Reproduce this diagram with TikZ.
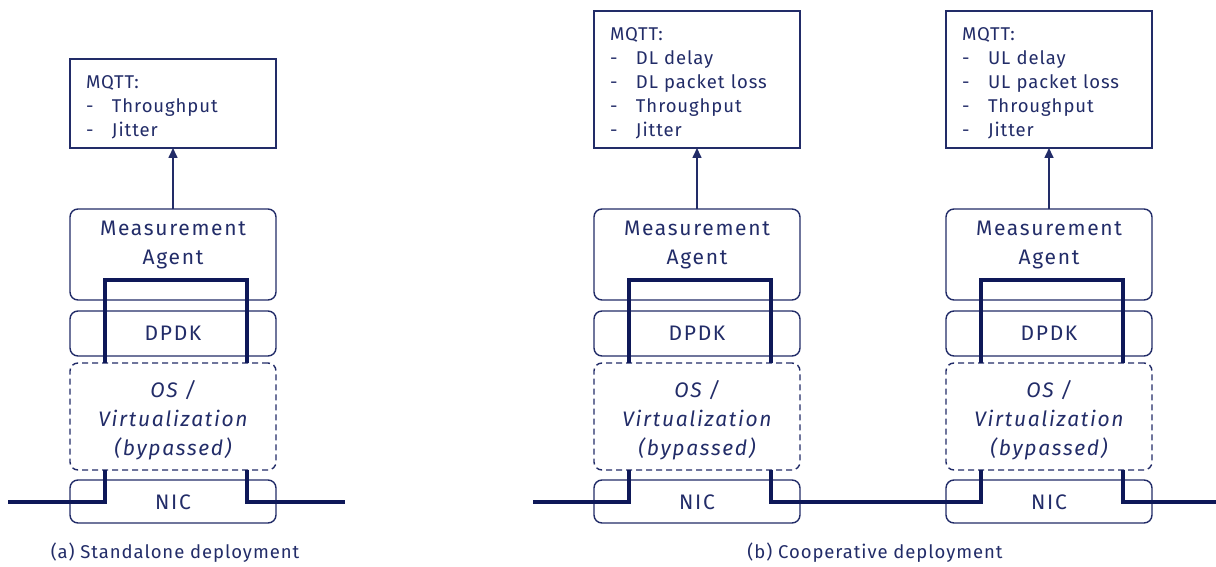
\documentclass[tikz,border=0pt]{standalone}
\usepackage{fontspec}
\setmainfont{Fira Sans}
\newfontfamily\boxfont[LetterSpace=8]{Fira Sans}
\newfontfamily\listfont[LetterSpace=5]{Fira Sans}
\usetikzlibrary{arrows.meta,calc}
\definecolor{navy}{RGB}{34,44,104}
\definecolor{deepnavy}{RGB}{14,24,88}
\newcommand\dashitem{\makebox[26pt][l]{-}}
\tikzset{
  layer/.style={draw=navy, line width=1.4pt, rounded corners=8pt, minimum width=206pt,
    text=navy, font=\boxfont\fontsize{21}{29}\selectfont, align=center, inner sep=0pt, outer sep=0pt},
  bypass/.style={layer, dash pattern=on 6pt off 4pt},
  layertext/.style={text=navy, font=\boxfont\fontsize{21}{29}\selectfont, align=center, inner sep=0pt},
  mqtt/.style={draw=navy, line width=1.6pt, minimum width=206pt, inner sep=0pt, outer sep=0pt},
  mqtttext/.style={text width=174pt, align=left, inner sep=0pt, text=navy,
    font=\listfont\fontsize{18.5}{24}\selectfont},
  pkt/.style={draw=deepnavy, line width=4pt},
  pub/.style={draw=navy, line width=1.6pt, -{Triangle[length=10pt,width=9pt]}},
  caption/.style={text=navy, font=\listfont\fontsize{18.5}{22}\selectfont}
}
\newcommand\measstack[2]{%
  \node[layer, minimum height=91pt] (agent#1) at (#2,254.5) {};
  \node[layertext] (agenttxt#1) at (#2,245.5) {Measurement\\Agent};
  \node[layer, minimum height=45pt] (dpdk#1) at (#2,333.5) {DPDK};
  \node[bypass, minimum height=107pt] (os#1) at (#2,416.5) {};
  \node[layertext, font=\boxfont\itshape\fontsize{21}{29}\selectfont] (ostxt#1) at (#2,420.5) {OS /\\Virtualization\\(bypassed)};
  \node[layer, minimum height=43pt] (nic#1) at (#2,501.5) {};
  \node[layertext] (nictxt#1) at (#2,502.5) {NIC};
  \draw[pkt] ($(os#1.north west)+(35,0)$) -- ($(agent#1.south west)+(35,-20)$)
     -- ($(agent#1.south east)+(-29,-20)$) -- ($(os#1.north east)+(-29,0)$);
}
\begin{document}
\begin{tikzpicture}[x=1pt,y=-1pt]
\useasboundingbox (0,0) rectangle (1216,567);
\fill[white] (0,0) rectangle (1216,567);

% (a) standalone
\node[mqtt, minimum height=89pt] (mqttA) at (173,103.5) {};
\node[mqtttext] (mqttAtxt) at (173,107.5) {MQTT:\\\dashitem Throughput\\\dashitem Jitter};
\measstack{A}{173}
\draw[pub] (agentA.north) -- (mqttA.south);
\coordinate (inA) at (8,502);
\coordinate (outA) at (345,502);
\draw[pkt] (inA) -- ($(nicA.west)+(35,0.5)$) -- ($(osA.south west)+(35,0)$);
\draw[pkt] ($(osA.south east)+(-29,0)$) -- ($(nicA.east)+(-29,0.5)$) -- (outA);
\node[caption] (capA) at (175,553) {(a) Standalone deployment};

% (b) cooperative
\node[mqtt, minimum height=137pt] (mqttB) at (697,79.5) {};
\node[mqtttext] (mqttBtxt) at (697,83) {MQTT:\\\dashitem DL delay\\\dashitem DL packet loss\\\dashitem Throughput\\\dashitem Jitter};
\measstack{B}{697}
\draw[pub] (agentB.north) -- (mqttB.south);

\node[mqtt, minimum height=137pt] (mqttC) at (1049,79.5) {};
\node[mqtttext] (mqttCtxt) at (1049,83) {MQTT:\\\dashitem UL delay\\\dashitem UL packet loss\\\dashitem Throughput\\\dashitem Jitter};
\measstack{C}{1049}
\draw[pub] (agentC.north) -- (mqttC.south);

\coordinate (inB) at (533,502);
\coordinate (outC) at (1216,502);
\draw[pkt] (inB) -- ($(nicB.west)+(35,0.5)$) -- ($(osB.south west)+(35,0)$);
\draw[pkt] ($(osB.south east)+(-29,0)$) -- ($(nicB.east)+(-29,0.5)$)
   -- ($(nicC.west)+(35,0.5)$) -- ($(osC.south west)+(35,0)$);
\draw[pkt] ($(osC.south east)+(-29,0)$) -- ($(nicC.east)+(-29,0.5)$) -- (outC);
\node[caption] (capB) at (875,553) {(b) Cooperative deployment};
\end{tikzpicture}
\end{document}
